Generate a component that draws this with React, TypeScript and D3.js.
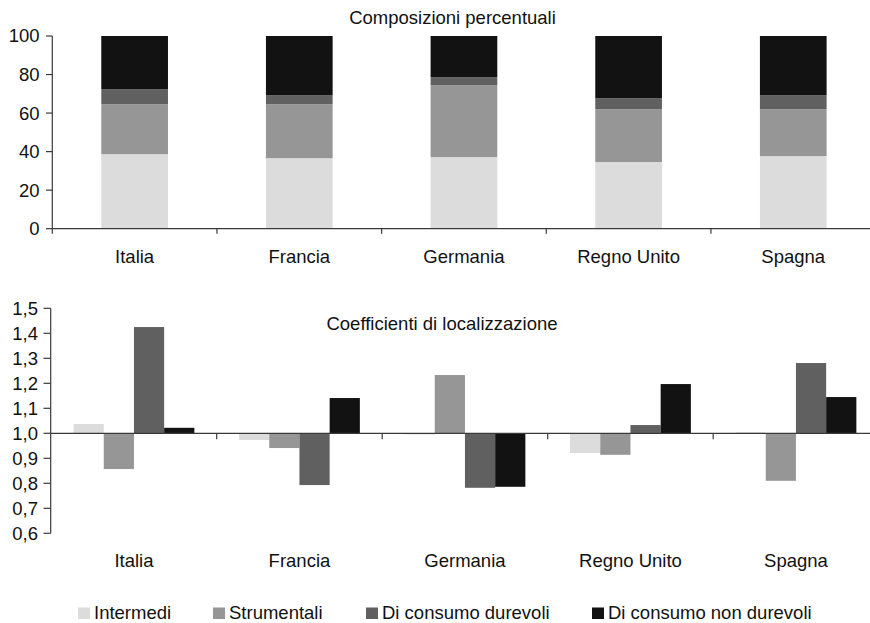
import React from "react";
import * as d3 from "d3";

const categories = ["Italia", "Francia", "Germania", "Regno Unito", "Spagna"];
const seriesNames = ["Intermedi", "Strumentali", "Di consumo durevoli", "Di consumo non durevoli"];
const seriesColors = ["#dcdcdc", "#969696", "#606060", "#121212"];

// Composizioni percentuali
const intermediShare = [38.7, 36.6, 37.2, 34.6, 37.7];
const strumentaliShare = [25.9, 28.0, 37.2, 27.4, 24.3];
const durevoliShare = [7.8, 4.7, 4.2, 5.7, 7.3];
const nonDurevoliShare = [27.6, 30.7, 21.4, 32.3, 30.7];

// Coefficienti di localizzazione
const intermediCoef = [1.037, 0.973, 0.995, 0.921, 1.004];
const strumentaliCoef = [0.857, 0.941, 1.233, 0.914, 0.81];
const durevoliCoef = [1.425, 0.793, 0.782, 1.033, 1.281];
const nonDurevoliCoef = [1.022, 1.141, 0.786, 1.197, 1.145];

const shareTicks = [0, 20, 40, 60, 80, 100];
const coefTicks = [0.6, 0.7, 0.8, 0.9, 1.0, 1.1, 1.2, 1.3, 1.4, 1.5];

const topTitle = "Composizioni percentuali";
const bottomTitle = "Coefficienti di localizzazione";

const FONT = "'Liberation Sans', Arial, sans-serif";
const FS = 18.5;
const AXIS = "#3a3a3a";
const TEXT = "#111";

export default function App() {
  const W = 870, H = 623;

  // ---------- top chart ----------
  const shareSeries = [intermediShare, strumentaliShare, durevoliShare, nonDurevoliShare];
  const table = categories.map((c, i) => {
    const o: any = { cat: c };
    seriesNames.forEach((s, k) => (o[s] = shareSeries[k][i]));
    return o;
  });
  const stacked = d3.stack().keys(seriesNames)(table);

  const xTop = d3.scaleBand().domain(categories).range([52.3, 875.6]).padding(0);
  const yTop = d3.scaleLinear().domain([0, 100]).range([228.7, 36]);
  const topBarW = xTop.bandwidth() * 0.405;

  // ---------- bottom chart ----------
  const coefSeries = [intermediCoef, strumentaliCoef, durevoliCoef, nonDurevoliCoef];
  const xBot = d3.scaleBand().domain(categories).range([51.2, 878.7]).padding(0);
  const groupW = xBot.bandwidth() * 0.73;
  const xSub = d3.scaleBand().domain(seriesNames).range([0, groupW]).padding(0);
  const yBot = d3.scaleLinear().domain([0.6, 1.5]).range([533.3, 308.3]);
  const fmt = (v: number) => d3.format(".1f")(v).replace(".", ",");

  const legendX = [78, 213, 366, 592];

  return (
    <svg
      width={W}
      height={H}
      style={{ position: "absolute", left: 0, top: 0, background: "#fff" }}
      fontFamily={FONT}
    >
      {/* Top title */}
      <text x={452.5} y={23.5} fontSize={FS} textAnchor="middle" fill={TEXT}>
        {topTitle}
      </text>

      {/* Top bars */}
      {stacked.map((layer, k) =>
        layer.map((d, i) => (
          <rect
            key={`t${k}-${i}`}
            x={(xTop(categories[i]) as number) + xTop.bandwidth() / 2 - topBarW / 2}
            y={yTop(d[1])}
            width={topBarW}
            height={yTop(d[0]) - yTop(d[1])}
            fill={seriesColors[k]}
          />
        ))
      )}

      {/* Top y axis */}
      <line x1={52.3} x2={52.3} y1={yTop(100)} y2={yTop(0) + 5} stroke={AXIS} strokeWidth={1.2} />
      {shareTicks.map((t) => (
        <g key={`ty${t}`}>
          <line x1={46} x2={52.3} y1={yTop(t)} y2={yTop(t)} stroke={AXIS} strokeWidth={1.2} />
          <text x={39.5} y={yTop(t)} dy="0.35em" fontSize={FS} textAnchor="end" fill={TEXT}>
            {t}
          </text>
        </g>
      ))}
      {/* Top x axis */}
      <line x1={52.3} x2={W} y1={yTop(0)} y2={yTop(0)} stroke={AXIS} strokeWidth={1.2} />
      {categories.slice(1).map((c) => (
        <line
          key={`txt${c}`}
          x1={xTop(c) as number}
          x2={xTop(c) as number}
          y1={yTop(0)}
          y2={yTop(0) + 5}
          stroke={AXIS}
          strokeWidth={1.2}
        />
      ))}
      {categories.map((c) => (
        <text
          key={`tl${c}`}
          x={(xTop(c) as number) + xTop.bandwidth() / 2}
          y={263}
          fontSize={FS}
          textAnchor="middle"
          fill={TEXT}
        >
          {c}
        </text>
      ))}

      {/* Bottom title */}
      <text x={442} y={330} fontSize={FS} textAnchor="middle" fill={TEXT}>
        {bottomTitle}
      </text>

      {/* Bottom bars */}
      {coefSeries.map((vals, k) =>
        vals.map((v, i) => {
          const x0 = (xBot(categories[i]) as number) + xBot.bandwidth() / 2 - groupW / 2;
          const yv = yBot(v);
          const y1 = yBot(1);
          return (
            <rect
              key={`b${k}-${i}`}
              x={x0 + (xSub(seriesNames[k]) as number)}
              y={Math.min(yv, y1)}
              width={xSub.bandwidth()}
              height={Math.abs(yv - y1)}
              fill={seriesColors[k]}
            />
          );
        })
      )}

      {/* Bottom y axis */}
      <line x1={50.7} x2={50.7} y1={yBot(1.5)} y2={yBot(0.6)} stroke={AXIS} strokeWidth={1.2} />
      {coefTicks.map((t) => (
        <g key={`by${t}`}>
          <line x1={43.5} x2={50.7} y1={yBot(t)} y2={yBot(t)} stroke={AXIS} strokeWidth={1.2} />
          <text x={38} y={yBot(t)} dy="0.35em" fontSize={FS} textAnchor="end" fill={TEXT}>
            {fmt(t)}
          </text>
        </g>
      ))}
      {/* Bottom x axis at 1,0 */}
      <line x1={50.7} x2={W} y1={yBot(1)} y2={yBot(1)} stroke={AXIS} strokeWidth={1.2} />
      {categories.slice(1).map((c) => (
        <line
          key={`bxt${c}`}
          x1={xBot(c) as number}
          x2={xBot(c) as number}
          y1={yBot(1)}
          y2={yBot(1) + 6}
          stroke={AXIS}
          strokeWidth={1.2}
        />
      ))}
      {categories.map((c) => (
        <text
          key={`bl${c}`}
          x={(xBot(c) as number) + xBot.bandwidth() / 2}
          y={567}
          fontSize={FS}
          textAnchor="middle"
          fill={TEXT}
        >
          {c}
        </text>
      ))}

      {/* Legend */}
      {seriesNames.map((s, k) => (
        <g key={`lg${s}`} transform={`translate(${legendX[k]},0)`}>
          <rect x={0} y={607.5} width={12} height={11.5} fill={seriesColors[k]} />
          <text x={16} y={619} fontSize={FS} fill={TEXT}>
            {s}
          </text>
        </g>
      ))}
    </svg>
  );
}
